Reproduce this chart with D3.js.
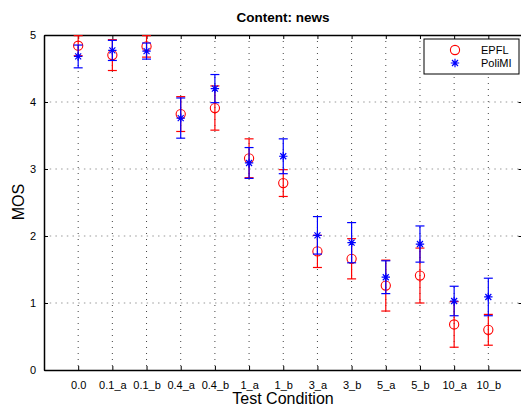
<!DOCTYPE html>
<html>
<head>
<meta charset="utf-8">
<script src="https://cdn.jsdelivr.net/npm/d3@7"></script>
<style>
  html, body { margin: 0; padding: 0; background: #fff; }
  svg { display: block; font-family: "Liberation Sans", Arial, Helvetica, sans-serif; }
</style>
</head>
<body>
<svg id="chart" width="521" height="409"></svg>
<script>
// Test conditions along the x axis
const categories = ["0.0", "0.1_a", "0.1_b", "0.4_a", "0.4_b", "1_a", "1_b", "3_a", "3_b", "5_a", "5_b", "10_a", "10_b"];

// Mean opinion scores and 95% confidence half-widths per lab
const epflMos = [4.84, 4.70, 4.83, 3.82, 3.91, 3.16, 2.79, 1.77, 1.66, 1.26, 1.41, 0.68, 0.60];
const epflCi  = [0.15, 0.23, 0.16, 0.26, 0.33, 0.29, 0.20, 0.24, 0.30, 0.38, 0.41, 0.34, 0.23];
const polimiMos = [4.68, 4.77, 4.76, 3.76, 4.20, 3.09, 3.19, 2.01, 1.90, 1.385, 1.88, 1.03, 1.09];
const polimiCi  = [0.17, 0.15, 0.12, 0.30, 0.21, 0.23, 0.26, 0.28, 0.30, 0.245, 0.27, 0.22, 0.28];

const yTicks = [0, 1, 2, 3, 4, 5];

const svg = d3.select("#chart");
const plotLeft = 44, plotRight = 522.5, plotTop = 35, plotBottom = 370;

const x = d3.scaleLinear().domain([0, categories.length + 1]).range([plotLeft, plotRight]);
const y = d3.scaleLinear().domain([0, 5]).range([plotBottom, plotTop]);
const xIdx = categories.map((_, i) => i + 1);

// Dotted grid
const grid = svg.append("g");
grid.selectAll("line.gx").data(xIdx).join("line")
  .attr("x1", d => x(d)).attr("x2", d => x(d))
  .attr("y1", plotTop).attr("y2", plotBottom)
  .attr("stroke", "#444").attr("stroke-width", 1)
  .attr("stroke-dasharray", "1 5");
grid.selectAll("line.gy").data(yTicks.slice(1, -1)).join("line")
  .attr("x1", plotLeft).attr("x2", plotRight)
  .attr("y1", d => y(d)).attr("y2", d => y(d))
  .attr("stroke", "#999").attr("stroke-width", 1.2)
  .attr("stroke-dasharray", "1.5 4.2");

// Axes with inward ticks
const tick = 4;
const xAxis = d3.axisBottom(x).tickValues(xIdx).tickFormat(i => categories[i - 1])
  .tickSizeInner(-tick).tickSizeOuter(0).tickPadding(11);
const gx = svg.append("g").attr("transform", `translate(0,${plotBottom})`).call(xAxis);
const xAxisTop = d3.axisTop(x).tickValues(xIdx).tickFormat("").tickSizeInner(-tick).tickSizeOuter(0);
const gxt = svg.append("g").attr("transform", `translate(0,${plotTop})`).call(xAxisTop);
const yAxis = d3.axisLeft(y).tickValues(yTicks).tickFormat(d3.format("d"))
  .tickSizeInner(-tick).tickSizeOuter(0).tickPadding(8);
const gy = svg.append("g").attr("transform", `translate(${plotLeft},0)`).call(yAxis);
const yAxisRight = d3.axisRight(y).tickValues(yTicks).tickFormat("").tickSizeInner(-tick).tickSizeOuter(0);
const gyr = svg.append("g").attr("transform", `translate(${plotRight},0)`).call(yAxisRight);

[gx, gxt, gy, gyr].forEach(g => {
  g.select(".domain").attr("stroke", "#000").attr("stroke-width", 1.5);
  g.selectAll(".tick line").attr("stroke", "#000").attr("stroke-width", 1);
  g.selectAll(".tick text").attr("fill", "#000").attr("font-size", 11)
    .attr("font-family", "'Liberation Sans', Arial, sans-serif");
});

// Error bars and markers for one lab
const capHalf = 4.5;
function drawSeries(mos, ci, color, marker) {
  const g = svg.append("g");
  const rows = mos.map((m, i) => ({ i: i + 1, m, lo: m - ci[i], hi: m + ci[i] }));
  g.selectAll("line.v").data(rows).join("line")
    .attr("x1", d => x(d.i)).attr("x2", d => x(d.i))
    .attr("y1", d => y(d.lo)).attr("y2", d => y(d.hi))
    .attr("stroke", color).attr("stroke-width", 1.2);
  ["lo", "hi"].forEach(k => {
    g.selectAll("line.c" + k).data(rows).join("line")
      .attr("class", "c" + k)
      .attr("x1", d => x(d.i) - capHalf).attr("x2", d => x(d.i) + capHalf)
      .attr("y1", d => y(d[k])).attr("y2", d => y(d[k]))
      .attr("stroke", color).attr("stroke-width", 1.2);
  });
  rows.forEach(d => marker(g, x(d.i), y(d.m), color));
}

function circleMarker(g, cx, cy, color) {
  g.append("circle").attr("cx", cx).attr("cy", cy).attr("r", 4.6)
    .attr("fill", "none").attr("stroke", color).attr("stroke-width", 1.1);
}
function starMarker(g, cx, cy, color) {
  const a = 4.2, b = 3.0;
  const p = `M${cx - a},${cy}H${cx + a}M${cx},${cy - a}V${cy + a}` +
            `M${cx - b},${cy - b}L${cx + b},${cy + b}M${cx - b},${cy + b}L${cx + b},${cy - b}`;
  g.append("path").attr("d", p).attr("stroke", color).attr("stroke-width", 1.2).attr("fill", "none");
}

drawSeries(epflMos, epflCi, "#ff0000", circleMarker);
drawSeries(polimiMos, polimiCi, "#0000ff", starMarker);

// Titles
svg.append("text").attr("x", 283).attr("y", 22).attr("text-anchor", "middle")
  .attr("font-size", 13.5).attr("font-weight", "bold").text("Content: news");
svg.append("text").attr("x", 283).attr("y", 404).attr("text-anchor", "middle")
  .attr("font-size", 16).text("Test Condition");
svg.append("text").attr("transform", "translate(24,202) rotate(-90)").attr("text-anchor", "middle")
  .attr("font-size", 16).text("MOS");

// Legend
const lg = svg.append("g");
lg.append("rect").attr("x", 424).attr("y", 39).attr("width", 95).attr("height", 35)
  .attr("fill", "#fff").attr("stroke", "#000").attr("stroke-width", 1);
circleMarker(lg, 455, 50, "#ff0000");
starMarker(lg, 455, 63, "#0000ff");
lg.append("text").attr("x", 481).attr("y", 54).attr("font-size", 11).text("EPFL");
lg.append("text").attr("x", 481).attr("y", 67).attr("font-size", 11).text("PoliMI");
</script>
</body>
</html>
